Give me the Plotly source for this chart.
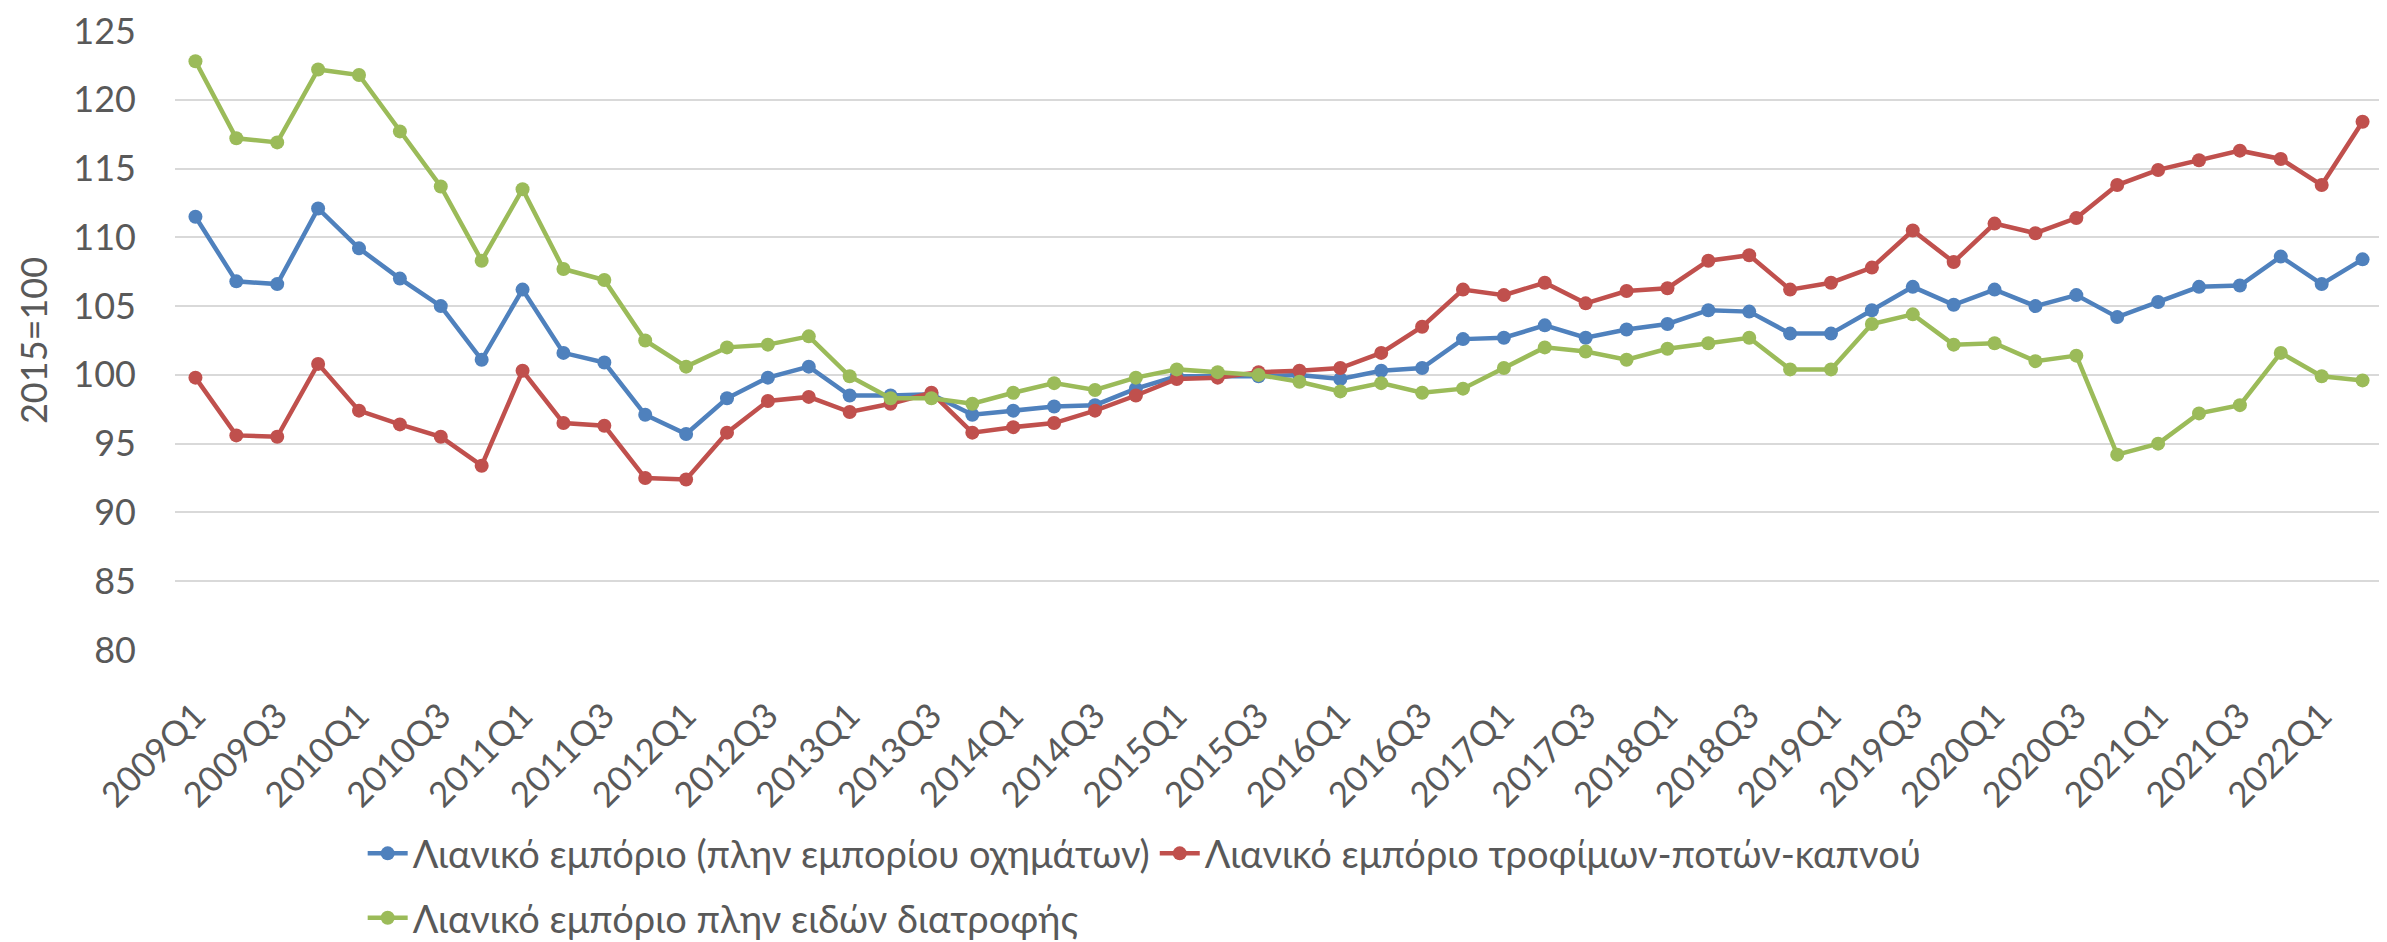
import plotly.graph_objects as go

# quarters 2009Q1 .. 2022Q2
quarters = [f"{y}Q{q}" for y in range(2009, 2023) for q in range(1, 5)][:54]
tick_labels = [q for i, q in enumerate(quarters) if i % 2 == 0]

name_total = "Λιανικό εμπόριο (πλην εμπορίου οχημάτων)"
name_food = "Λιανικό εμπόριο τροφίμων-ποτών-καπνού"
name_nonfood = "Λιανικό εμπόριο πλην ειδών διατροφής"

retail_total = [
    111.5, 106.8, 106.6, 112.1, 109.2, 107.0, 105.0, 101.1, 106.2, 101.6,
    100.9, 97.1, 95.7, 98.3, 99.8, 100.6, 98.5, 98.5, 98.6, 97.1,
    97.4, 97.7, 97.8, 99.0, 99.9, 99.9, 99.9, 100.0, 99.7, 100.3,
    100.5, 102.6, 102.7, 103.6, 102.7, 103.3, 103.7, 104.7, 104.6, 103.0,
    103.0, 104.7, 106.4, 105.1, 106.2, 105.0, 105.8, 104.2, 105.3, 106.4,
    106.5, 108.6, 106.6, 108.4,
]
retail_food = [
    99.8, 95.6, 95.5, 100.8, 97.4, 96.4, 95.5, 93.4, 100.3, 96.5,
    96.3, 92.5, 92.4, 95.8, 98.1, 98.4, 97.3, 97.9, 98.7, 95.8,
    96.2, 96.5, 97.4, 98.5, 99.7, 99.8, 100.2, 100.3, 100.5, 101.6,
    103.5, 106.2, 105.8, 106.7, 105.2, 106.1, 106.3, 108.3, 108.7, 106.2,
    106.7, 107.8, 110.5, 108.2, 111.0, 110.3, 111.4, 113.8, 114.9, 115.6,
    116.3, 115.7, 113.8, 118.4,
]
retail_nonfood = [
    122.8, 117.2, 116.9, 122.2, 121.8, 117.7, 113.7, 108.3, 113.5, 107.7,
    106.9, 102.5, 100.6, 102.0, 102.2, 102.8, 99.9, 98.3, 98.3, 97.9,
    98.7, 99.4, 98.9, 99.8, 100.4, 100.2, 100.0, 99.5, 98.8, 99.4,
    98.7, 99.0, 100.5, 102.0, 101.7, 101.1, 101.9, 102.3, 102.7, 100.4,
    100.4, 103.7, 104.4, 102.2, 102.3, 101.0, 101.4, 94.2, 95.0, 97.2,
    97.8, 101.6, 99.9, 99.6,
]

FONT = "Lato"
GREY = "#595959"

fig = go.Figure()
series = [
    (name_total, retail_total, "#4F81BD", "legend"),
    (name_food, retail_food, "#C0504D", "legend"),
    (name_nonfood, retail_nonfood, "#9BBB59", "legend2"),
]
for name, vals, color, leg in series:
    fig.add_trace(go.Scatter(
        x=quarters, y=vals, name=name, mode="lines+markers",
        line=dict(color=color, width=4.5),
        marker=dict(color=color, size=14),
        legend=leg,
    ))

# legend split in two rows like the original
legend_style = dict(orientation="h", xanchor="left", yanchor="middle",
                    font=dict(family=FONT, size=38, color=GREY),
                    bgcolor="rgba(0,0,0,0)", itemwidth=40,
                    tracegroupgap=0)

fig.update_layout(
    width=2387, height=942, autosize=False,
    margin=dict(l=167, r=12, t=23, b=300, autoexpand=False),
    plot_bgcolor="white", paper_bgcolor="white",
    font=dict(family=FONT, color=GREY),
    showlegend=True,
    legend=dict(x=0.085, y=-0.329, **legend_style),
    legend2=dict(x=0.085, y=-0.433, **legend_style),
    xaxis=dict(
        type="category", range=[-0.5, 53.5], automargin=False,
        tickmode="array", tickvals=tick_labels, ticktext=tick_labels,
        tickangle=-45, tickfont=dict(family=FONT, size=35, color=GREY),
        # invisible ticks push the slanted labels away from the plot
        ticks="outside", ticklen=30, tickcolor="rgba(0,0,0,0)",
        showgrid=False, showline=False,
    ),
    yaxis=dict(
        range=[80, 125], dtick=5, tick0=80, automargin=False,
        showgrid=True, gridcolor="#D9D9D9", gridwidth=2,
        zeroline=False, showline=False, ticks="",
        tickfont=dict(family=FONT, size=36, color=GREY),
        ticklabelstandoff=38, ticklabeloverflow="allow",
        title=dict(text="2015=100", font=dict(family=FONT, size=36, color=GREY),
                   standoff=14),
    ),
)

fig.write_html("out.html")
